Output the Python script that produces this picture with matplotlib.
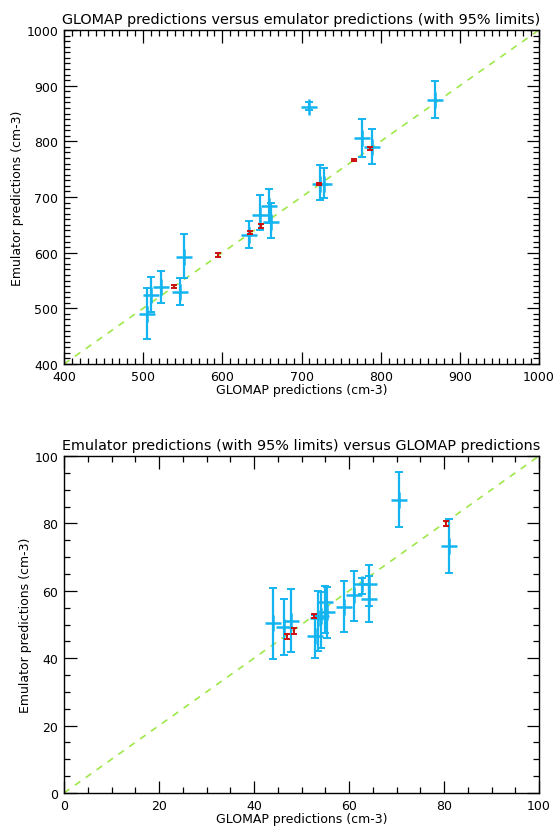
import numpy as np
import matplotlib
matplotlib.use("Agg")
import matplotlib.pyplot as plt
from matplotlib.ticker import MultipleLocator

# GLOMAP vs emulator, total number concentration (cm-3)
glomap_a = [505, 510, 523, 547, 551, 634, 647, 659, 662, 709, 723, 728, 777, 789, 869]
emul_a = [490, 524, 538, 530, 593, 632, 667, 683, 655, 862, 724, 723, 806, 789, 874]
emul_a_lo = [445, 493, 510, 506, 554, 608, 640, 654, 626, 856, 695, 698, 772, 759, 842]
emul_a_hi = [536, 556, 567, 554, 634, 656, 704, 715, 690, 870, 757, 752, 840, 822, 908]

# validation runs with tight limits
glomap_a_red = [539, 595, 635, 649, 722, 766, 787]
emul_a_red = [539, 596, 636, 648, 723, 766, 787]
emul_a_red_err = [3, 3, 3, 3, 2, 2, 2]

# second variable
glomap_b = [44.1, 46.4, 47.7, 52.8, 53.5, 54.2, 55.0, 55.3, 58.9, 61.0, 62.8, 64.3, 64.3, 70.5, 81.1]
emul_b = [50.3, 49.4, 51.1, 46.7, 51.8, 52.5, 56.7, 53.6, 55.3, 58.7, 61.9, 62.0, 57.5, 86.9, 73.3]
emul_b_lo = [39.9, 41.0, 41.7, 40.2, 42.0, 43.0, 47.5, 46.0, 47.9, 51.1, 59.0, 55.5, 50.6, 78.8, 65.4]
emul_b_hi = [60.8, 57.6, 60.5, 52.8, 60.0, 59.5, 61.3, 61.0, 62.8, 65.9, 63.9, 67.7, 64.4, 95.3, 81.2]

glomap_b_red = [46.9, 48.4, 52.6, 80.5]
emul_b_red = [46.5, 48.1, 52.6, 80.0]
emul_b_red_err = [0.8, 0.8, 0.6, 0.8]

blue = "#14b4f0"
red = "#cc1010"
green = "#9ee84a"

fig = plt.figure(figsize=(5.54, 8.29), dpi=100)
ax1 = fig.add_axes([64 / 554, 1 - 365 / 829, 475 / 554, 334 / 829])
ax2 = fig.add_axes([64 / 554, 1 - 794 / 829, 475 / 554, 337 / 829])


def panel(ax, x, y, lo, hi, xr, yr, yerr_r, lims, major, minor, title):
    ax.plot(lims, lims, ls=(0, (4, 4)), color=green, lw=1.2, zorder=1)
    y = np.array(y)
    err = [y - np.array(lo), np.array(hi) - y]
    ax.errorbar(x, y, yerr=err, fmt="none", ecolor=blue, elinewidth=1.6,
                capsize=3, capthick=1.4, zorder=2)
    ax.plot(x, y, ls="none", marker="+", ms=11, mew=1.8, color=blue, zorder=3)
    ax.errorbar(xr, yr, yerr=yerr_r, fmt="none", ecolor=red, elinewidth=1.4,
                capsize=2, capthick=1.4, zorder=4)
    ax.set_xlim(lims)
    ax.set_ylim(lims)
    ax.xaxis.set_major_locator(MultipleLocator(major))
    ax.yaxis.set_major_locator(MultipleLocator(major))
    ax.xaxis.set_minor_locator(MultipleLocator(minor))
    ax.yaxis.set_minor_locator(MultipleLocator(minor))
    ax.tick_params(which="both", direction="in", top=True, right=True,
                   labelsize=9, width=0.9, pad=4)
    ax.tick_params(which="major", length=9)
    ax.tick_params(which="minor", length=4.5)
    for s in ax.spines.values():
        s.set_linewidth(1.0)
    ax.set_title(title, fontsize=10.4, pad=5)
    ax.set_xlabel("GLOMAP predictions (cm-3)", fontsize=9, labelpad=0)
    ax.set_ylabel("Emulator predictions (cm-3)", fontsize=9, labelpad=2)


panel(ax1, glomap_a, emul_a, emul_a_lo, emul_a_hi,
      glomap_a_red, emul_a_red, emul_a_red_err,
      (400, 1000), 100, 10,
      "GLOMAP predictions versus emulator predictions (with 95% limits)")
panel(ax2, glomap_b, emul_b, emul_b_lo, emul_b_hi,
      glomap_b_red, emul_b_red, emul_b_red_err,
      (0, 100), 20, 5,
      "Emulator predictions (with 95% limits) versus GLOMAP predictions")

fig.savefig("out.png", dpi=100)
